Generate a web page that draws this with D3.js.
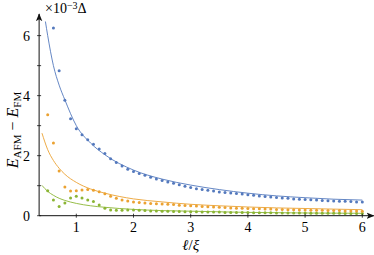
<!DOCTYPE html>
<html>
<head>
<meta charset="utf-8">
<script src="https://cdn.jsdelivr.net/npm/d3@7"></script>
<style>
  body { margin: 0; background: #fff; }
  text { fill: #000; }
</style>
</head>
<body>
<svg id="chart"></svg>
<script>
const width = 374, height = 255;
const blue_color = "#5479bd", orange_color = "#eba232", green_color = "#8bb534", axis_color = "#111";
const font_family = "'Liberation Serif', 'DejaVu Serif', serif";

// sample positions l/xi
const xsBlue = [0.6,0.7,0.8,0.9,1.0,1.1,1.2,1.3,1.4,1.5,1.6,1.7,1.8,1.9,2.0,2.1,2.2,2.3,2.4,2.5,2.6,2.7,2.8,2.9,3.0,
  3.1,3.2,3.3,3.4,3.5,3.6,3.7,3.8,3.9,4.0,4.1,4.2,4.3,4.4,4.5,4.6,4.7,4.8,4.9,5.0,5.1,5.2,5.3,5.4,5.5,5.6,5.7,5.8,5.9,6.0];
const xsOther = [0.5].concat(xsBlue);

const blueVals = [6.25,4.83,3.85,3.23,2.90,2.70,2.53,2.38,2.22,2.07,1.90,1.77,1.66,1.55,1.47,1.41,1.35,1.28,1.22,1.17,1.12,1.08,1.03,0.98,0.94,
  0.90,0.87,0.85,0.82,0.79,0.77,0.76,0.74,0.72,0.70,0.68,0.66,0.64,0.62,0.61,0.59,0.58,0.56,0.55,0.54,0.53,0.52,0.51,0.50,0.49,0.48,0.48,0.47,0.46,0.46];
const orangeVals = [3.36,2.42,1.49,0.96,0.82,0.83,0.86,0.87,0.85,0.80,0.73,0.65,0.58,0.52,0.49,0.46,0.44,0.42,0.41,0.40,0.39,0.38,0.37,0.35,0.34,0.33,
  0.32,0.31,0.30,0.29,0.28,0.27,0.26,0.25,0.25,0.24,0.23,0.23,0.22,0.22,0.21,0.21,0.20,0.20,0.19,0.19,0.18,0.18,0.18,0.17,0.17,0.17,0.16,0.16,0.16,0.15];
const greenVals = [0.83,0.52,0.31,0.42,0.59,0.65,0.59,0.52,0.47,0.36,0.25,0.19,0.18,0.18,0.19,0.19,0.18,0.17,0.16,0.16,0.15,0.15,0.14,0.14,0.13,0.13,
  0.13,0.12,0.12,0.12,0.12,0.11,0.11,0.11,0.11,0.11,0.10,0.10,0.10,0.10,0.09,0.09,0.09,0.09,0.09,0.09,0.08,0.08,0.08,0.08,0.08,0.08,0.07,0.07,0.07,0.07];

const fitBlueX = [0.46,0.5,0.6,0.7,0.8,1.0,1.25,1.5,2,2.5,3,3.5,4,4.5,5,5.5,6];
const fitBlueY = [6.47,6.0,5.0,4.35,3.86,3.0,2.42,2.03,1.52,1.22,1.02,0.87,0.75,0.66,0.60,0.55,0.52];
const fitOrangeX = [0.4,0.5,0.6,0.7,0.8,1.0,1.25,1.5,2,2.5,3,3.5,4,4.5,5,5.5,6];
const fitOrangeY = [2.75,2.2,1.84,1.58,1.38,1.11,0.89,0.75,0.56,0.46,0.38,0.33,0.29,0.26,0.24,0.22,0.20];
const fitGreenX = [0.4,0.5,0.6,0.7,0.8,1.0,1.25,1.5,2,2.5,3,4,5,6];
const fitGreenY = [1.01,0.81,0.68,0.58,0.51,0.41,0.33,0.28,0.21,0.17,0.15,0.11,0.09,0.08];

const xTicks = [1,2,3,4,5,6];
const yTicks = [0,1,2,3,4,5,6];
const yTickLabels = [0,2,4,6];

const svg = d3.select("#chart").attr("width", width).attr("height", height)
  .attr("font-family", font_family);

const x = d3.scaleLinear().domain([0, 6]).range([19.1, 362.3]);
const y = d3.scaleLinear().domain([0, 6.72]).range([215.7, 14]);

const x0 = x(0.35), y0 = y(0);

// arrow head
svg.append("defs").append("marker")
  .attr("id", "arrow")
  .attr("viewBox", "0 0 10 10")
  .attr("refX", 9).attr("refY", 5)
  .attr("markerWidth", 8).attr("markerHeight", 8)
  .attr("markerUnits", "userSpaceOnUse")
  .attr("orient", "auto")
  .append("path")
  .attr("d", "M0,1 L10,5 L0,9 L2.5,5 Z")
  .attr("fill", axis_color);

////////////////////////////////////
//            Curves              //
////////////////////////////////////

const fitLine = d3.line()
  .x(d => x(d[0]))
  .y(d => y(d[1]))
  .curve(d3.curveMonotoneX);

const fits = [
  { xs: fitGreenX, ys: fitGreenY, color: green_color },
  { xs: fitOrangeX, ys: fitOrangeY, color: orange_color },
  { xs: fitBlueX, ys: fitBlueY, color: blue_color }
];
fits.forEach(f => {
  svg.append("path")
    .datum(f.xs.map((v, i) => [v, f.ys[i]]))
    .attr("d", fitLine)
    .attr("fill", "none")
    .attr("stroke", f.color)
    .attr("stroke-width", 0.9);
});

////////////////////////////////////
//            Points              //
////////////////////////////////////

const series = [
  { xs: xsOther, ys: greenVals, color: green_color },
  { xs: xsOther, ys: orangeVals, color: orange_color },
  { xs: xsBlue, ys: blueVals, color: blue_color }
];
series.forEach(s => {
  svg.append("g")
    .selectAll("circle")
    .data(s.xs.map((v, i) => [v, s.ys[i]]))
    .enter()
    .append("circle")
    .attr("cx", d => x(d[0]))
    .attr("cy", d => y(d[1]))
    .attr("r", 1.5)
    .attr("fill", s.color);
});

////////////////////////////////////
//             Axes               //
////////////////////////////////////

svg.append("line")
  .attr("x1", x0).attr("y1", y0)
  .attr("x2", x(6.2)).attr("y2", y0)
  .attr("stroke", axis_color).attr("stroke-width", 1)
  .attr("marker-end", "url(#arrow)");

svg.append("line")
  .attr("x1", x0).attr("y1", y0)
  .attr("x2", x0).attr("y2", y(6.72))
  .attr("stroke", axis_color).attr("stroke-width", 1)
  .attr("marker-end", "url(#arrow)");

svg.selectAll(".xtick")
  .data(xTicks)
  .enter()
  .append("line")
  .attr("x1", d => x(d)).attr("x2", d => x(d))
  .attr("y1", y0 - 2).attr("y2", y0 + 2)
  .attr("stroke", axis_color).attr("stroke-width", 0.8);

svg.selectAll(".xlabel")
  .data(xTicks)
  .enter()
  .append("text")
  .attr("x", d => x(d))
  .attr("y", 232)
  .attr("text-anchor", "middle")
  .attr("font-size", "14px")
  .text(d => d);

svg.selectAll(".ytick")
  .data(yTicks)
  .enter()
  .append("line")
  .attr("x1", x0 - 2).attr("x2", x0 + 2)
  .attr("y1", d => y(d)).attr("y2", d => y(d))
  .attr("stroke", axis_color).attr("stroke-width", 0.8);

svg.selectAll(".ylabel")
  .data(yTickLabels)
  .enter()
  .append("text")
  .attr("x", 30)
  .attr("y", d => y(d) + 5)
  .attr("text-anchor", "end")
  .attr("font-size", "14px")
  .text(d => d);

// axis titles
const xt = svg.append("text")
  .attr("x", x(3))
  .attr("y", 250)
  .attr("text-anchor", "middle")
  .attr("font-size", "15px")
  .attr("font-style", "italic");
xt.append("tspan").text("ℓ");
xt.append("tspan").attr("font-style", "normal").text("/");
xt.append("tspan").text("ξ");

const yt = svg.append("text")
  .attr("transform", "translate(18,130) rotate(-90)")
  .attr("text-anchor", "middle")
  .attr("font-size", "16px");
yt.append("tspan").attr("font-style", "italic").text("E");
yt.append("tspan").attr("font-size", "11px").attr("dy", 3).text("AFM");
yt.append("tspan").attr("dy", -3).text(" − ");
yt.append("tspan").attr("font-style", "italic").text("E");
yt.append("tspan").attr("font-size", "11px").attr("dy", 3).text("FM");

const unit = svg.append("text")
  .attr("x", 45)
  .attr("y", 13)
  .attr("font-size", "14px");
unit.append("tspan").text("×10");
unit.append("tspan").attr("font-size", "10px").attr("dy", -4).text("−3");
unit.append("tspan").attr("dy", 4).text("Δ");
</script>
</body>
</html>
